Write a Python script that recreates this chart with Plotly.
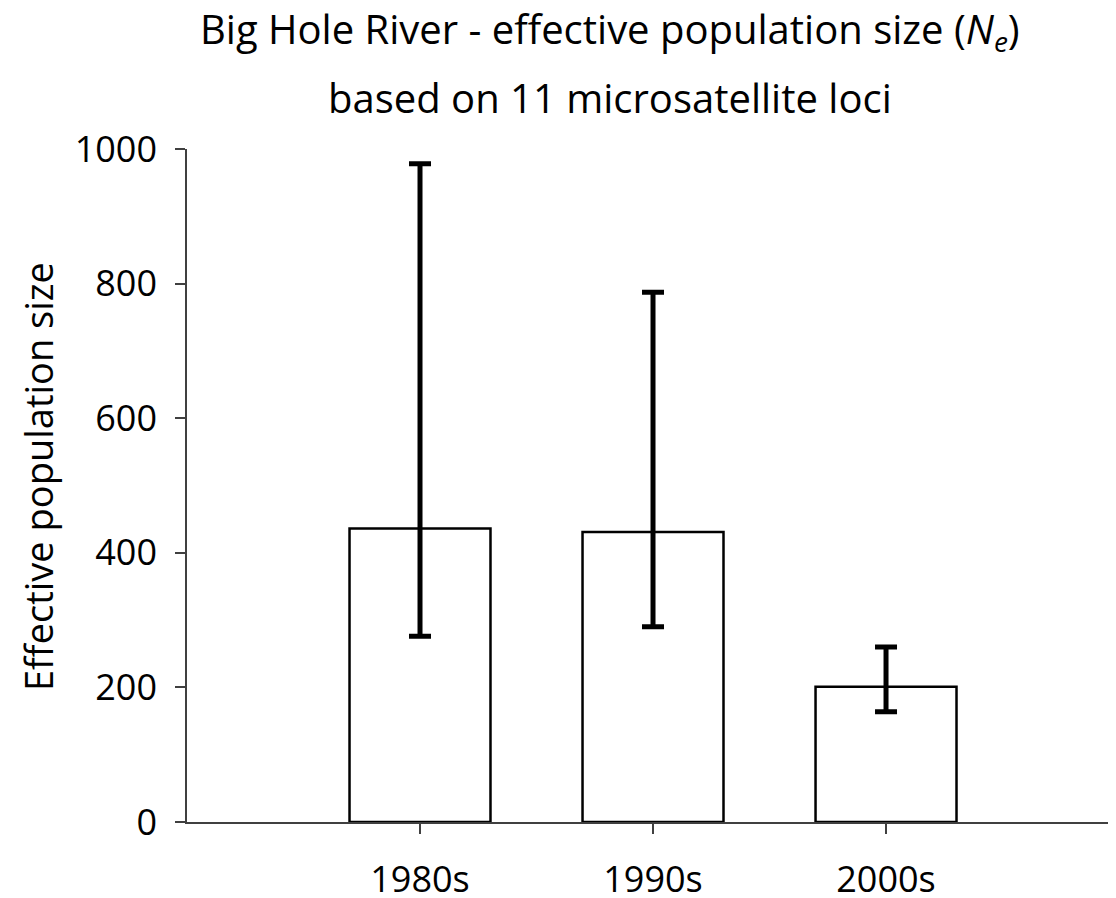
import plotly.graph_objects as go

categories = ["1980s", "1990s", "2000s"]
ne_values = [436, 431, 201]
ci_upper = [978, 787, 260]
ci_lower = [276, 290, 164]

err_plus = [u - v for u, v in zip(ci_upper, ne_values)]
err_minus = [v - l for v, l in zip(ne_values, ci_lower)]

FONT = "Open Sans"

W, H = 1108, 890
l, r, t, b = 179, 0, 140.5, 75.5
ph = H - t - b
pw = W - l - r

def py(pix):
    return (H - b - pix) / ph

def px(pix):
    return (pix - l) / pw

fig = go.Figure()
fig.add_trace(go.Bar(
    x=[0, 1, 2],
    y=ne_values,
    width=0.605,
    marker=dict(color="white", line=dict(color="black", width=2.5)),
    error_y=dict(type="data", symmetric=False, array=err_plus, arrayminus=err_minus,
                 color="black", thickness=5, width=11),
    showlegend=False,
))

fig.add_annotation(text="Big Hole River - effective population size (<i>N<sub>e</sub></i>)",
                   xref="paper", yref="paper", x=px(602), y=py(22), xanchor="center", yanchor="middle",
                   showarrow=False, font=dict(family=FONT, size=40, color="black"))
fig.add_annotation(text="based on 11 microsatellite loci",
                   xref="paper", yref="paper", x=px(602), y=py(89), xanchor="center", yanchor="middle",
                   showarrow=False, font=dict(family=FONT, size=40, color="black"))
fig.add_annotation(text="Effective population size", textangle=-90,
                   xref="paper", yref="paper", x=px(30), y=py(469), xanchor="center", yanchor="middle",
                   showarrow=False, font=dict(family=FONT, size=38, color="black"))

fig.update_layout(
    width=W, height=H,
    margin=dict(l=l, r=r, t=t, b=b, autoexpand=False),
    paper_bgcolor="white", plot_bgcolor="white",
    font=dict(family=FONT, size=36, color="black"),
    xaxis=dict(range=[-1, 2.987], tickmode="array", tickvals=[0, 1, 2], ticktext=categories,
               showline=True, linecolor="#404040", linewidth=1.5, ticks="outside", ticklen=10,
               tickcolor="#404040", tickwidth=1.5, showgrid=False, zeroline=False, automargin=False,
               ticklabelstandoff=15, tickfont=dict(family=FONT, size=36, color="black")),
    yaxis=dict(range=[0, 1000], tickvals=[0, 200, 400, 600, 800, 1000],
               showline=True, linecolor="#404040", linewidth=1.5, ticks="outside", ticklen=10,
               tickcolor="#404040", tickwidth=1.5, showgrid=False, zeroline=False, automargin=False,
               ticklabelstandoff=11, tickfont=dict(family=FONT, size=36, color="black")),
)

fig.write_html("out.html")
